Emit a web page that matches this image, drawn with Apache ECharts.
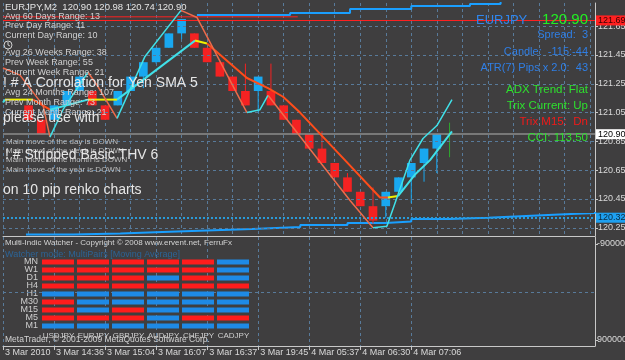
<!DOCTYPE html>
<html>
<head>
<meta charset="utf-8">
<script src="https://cdn.jsdelivr.net/npm/echarts@6/dist/echarts.min.js"></script>
<style>
html, body { margin: 0; padding: 0; background: #3f3e3f; }
#main { width: 625px; height: 360px; }
</style>
</head>
<body>
<div id="main"></div>
<script>
// renko bricks: index, open, close, low, high
var bricks = [
  [0, 121.10, 121.00, 121.00, 121.10],
  [1, 121.00, 120.90, 120.90, 121.00],
  [2, 121.00, 121.10, 121.00, 121.10],
  [3, 121.10, 121.20, 121.10, 121.20],
  [4, 121.20, 121.30, 121.20, 121.30],
  [5, 121.20, 121.10, 121.10, 121.20],
  [6, 121.10, 121.00, 121.00, 121.10],
  [7, 121.10, 121.20, 121.10, 121.20],
  [8, 121.20, 121.30, 121.20, 121.30],
  [9, 121.30, 121.40, 121.22, 121.40],
  [10, 121.40, 121.50, 121.39, 121.50],
  [11, 121.50, 121.60, 121.50, 121.60],
  [12, 121.60, 121.70, 121.56, 121.70],
  [13, 121.60, 121.50, 121.50, 121.60],
  [14, 121.50, 121.40, 121.40, 121.50],
  [15, 121.40, 121.30, 121.30, 121.40],
  [16, 121.30, 121.20, 121.20, 121.30],
  [17, 121.20, 121.10, 121.10, 121.39],
  [18, 121.20, 121.30, 121.05, 121.30],
  [19, 121.20, 121.10, 121.10, 121.39],
  [20, 121.10, 121.00, 121.00, 121.10],
  [21, 121.00, 120.90, 120.90, 121.00],
  [22, 120.90, 120.80, 120.80, 120.90],
  [23, 120.80, 120.70, 120.70, 120.92],
  [24, 120.70, 120.60, 120.60, 120.70],
  [25, 120.60, 120.50, 120.50, 120.63],
  [26, 120.50, 120.40, 120.40, 120.50],
  [27, 120.40, 120.30, 120.28, 120.53],
  [28, 120.40, 120.50, 120.32, 120.50],
  [29, 120.50, 120.60, 120.50, 120.60],
  [30, 120.60, 120.70, 120.42, 120.70],
  [31, 120.70, 120.80, 120.57, 120.80],
  [32, 120.80, 120.90, 120.63, 120.90],
  [33, 120.90, 120.90, 120.74, 120.98]
];

// THV band lines: points [index, price], trend of each segment (u up, d down, f flat)
var fastLine = [[-2, 121.36], [-0.67, 121.31], [1.14, 121.10], [1.68, 120.88], [2.7, 121.07], [4.66, 121.33],
  [5.37, 121.24], [6.94, 121.01], [9.13, 121.44], [11.95, 121.76], [13.21, 121.71], [17.12, 121.05],
  [18.14, 121.07], [18.77, 121.17], [25.2, 120.44], [27.0, 120.25], [28.09, 120.26], [28.88, 120.46],
  [29.9, 120.72], [30.92, 120.87], [32.01, 120.96], [33.19, 121.14]];
var fastTrend = ['d', 'd', 'd', 'u', 'u', 'd', 'd', 'u', 'u', 'd', 'd', 'u', 'u', 'd', 'd', 'u', 'u', 'u', 'u', 'u', 'u'];

var slowLine = [[-2, 121.12], [-1.84, 121.14], [0.35, 121.14], [1.68, 121.07], [4.66, 121.14], [6.94, 121.14],
  [13.05, 121.55], [13.99, 121.53], [17.12, 121.29], [18.77, 121.22], [19.95, 121.16], [21.28, 121.05],
  [24.8, 120.72], [27.55, 120.46], [28.17, 120.46], [28.96, 120.47], [30.29, 120.62], [31.47, 120.72],
  [33.19, 120.92]];
var slowTrend = ['u', 'f', 'd', 'u', 'f', 'u', 'f', 'd', 'd', 'd', 'd', 'd', 'd', 'd', 'f', 'u', 'u', 'u'];

// stepped regression channel
var channelLow = [[-0.2, 120.203], [3.5, 120.21], [7.2, 120.221], [10.5, 120.23], [13.4, 120.242], [17.5, 120.255],
  [21.3, 120.269], [25, 120.283], [28, 120.293], [30, 120.311], [33, 120.32], [36, 120.332], [39, 120.343],
  [41.6, 120.353], [44.4, 120.36]];
var channelHigh = [[13.2, 121.728], [20.5, 121.742], [25.2, 121.769], [30, 121.79], [34.6, 121.804], [37, 121.82]];
var redLevelShort = [[-2, 121.715], [21.1, 121.715]];

var priceTicks = [121.65, 121.45, 121.25, 121.05, 120.85, 120.65, 120.45, 120.25];
var timeTickIdx = [-2, 2, 6, 10, 14, 18, 22, 26, 30];
var timeTickText = ['3 Mar 2010', '3 Mar 14:36', '3 Mar 15:04', '3 Mar 16:07', '3 Mar 16:37',
  '3 Mar 19:45', '4 Mar 05:37', '4 Mar 06:30', '4 Mar 07:06'];
var bidPrice = 120.90;
var highLevel = 121.69;
var lowLevel = 120.32;
var subTicks = [-9000000, 9000000];

// Multi-Indic watcher (1 = up/blue, 0 = down/red)
var watchPairs = ['USDJPY', 'EURJPY', 'GBPJPY', 'AUDJPY', 'CHFJPY', 'CADJPY'];
var watchFrames = ['MN', 'W1', 'D1', 'H4', 'H1', 'M30', 'M15', 'M5', 'M1'];
var watchSignal = [
  [0, 0, 0, 0, 0, 1],
  [0, 0, 0, 0, 0, 1],
  [0, 0, 0, 1, 0, 1],
  [0, 0, 0, 0, 0, 0],
  [1, 1, 1, 1, 1, 1],
  [0, 1, 1, 1, 1, 1],
  [0, 1, 0, 1, 1, 1],
  [0, 0, 0, 1, 0, 0],
  [1, 1, 1, 1, 1, 1]
];

var rangeInfo = ['Avg 60 Days Range: 13', 'Prev Day Range: 11', 'Current Day Range: 10',
  'Avg 26 Weeks Range: 38', 'Prev Week Range: 55', 'Current Week Range: 21',
  'Avg 24 Months Range: 107', 'Prev Month Range: 73', 'Current Month Range: 21'];
var moveInfo = ['Main move of the day is DOWN', 'Main move of the week is DOWN',
  'Main move of the month is DOWN', 'Main move of the year is DOWN'];

var UP = '#19a8f0', DOWN = '#f52222', DOJI = '#2fa82f';
var CYAN = '#40e0e8', ORANGE = '#ff4d1a', SALMON = '#ee6a4a', YELLOW = '#f0f000';
var GRIDC = '#587a9a';
var TXF = "'Liberation Sans',Arial,sans-serif";

function renderBrick(params, api) {
  var i = api.value(0), o = api.value(1), c = api.value(2), lo = api.value(3), hi = api.value(4);
  var w = api.size([1, 0])[0] * 0.68;
  var pO = api.coord([i, o]), pC = api.coord([i, c]), pL = api.coord([i, lo]), pH = api.coord([i, hi]);
  var col = c > o ? UP : (c < o ? DOWN : DOJI);
  var kids = [{ type: 'line', shape: { x1: pH[0], y1: pH[1], x2: pL[0], y2: pL[1] }, style: { stroke: col, lineWidth: 1 } }];
  if (c === o) {
    kids.push({ type: 'line', shape: { x1: pO[0] - w / 2, y1: pO[1], x2: pO[0] + w / 2, y2: pO[1] }, style: { stroke: col, lineWidth: 1 } });
  } else {
    kids.push({ type: 'rect', shape: { x: pO[0] - w / 2, y: Math.min(pO[1], pC[1]), width: w, height: Math.abs(pO[1] - pC[1]) }, style: { fill: col } });
  }
  return { type: 'group', children: kids };
}

function renderCell(params, api) {
  var p = api.coord([api.value(0), api.value(1)]);
  var s = api.size([1, 1]);
  return { type: 'rect', shape: { x: p[0] - s[0] / 2 + 1, y: p[1] - 2.5, width: s[0] - 3, height: 5 },
    style: { fill: api.value(2) ? '#1e8ae6' : '#ff1c1c' } };
}

// split a band line into runs of the same trend colour
function bandSeries(pts, trend, colors, width, z) {
  var out = [], start = 0;
  for (var k = 1; k <= trend.length; k++) {
    if (k === trend.length || trend[k] !== trend[start]) {
      out.push({ type: 'line', xAxisIndex: 0, yAxisIndex: 0, data: pts.slice(start, k + 1), symbol: 'none',
        lineStyle: { color: colors[trend[start]], width: width }, z: z, silent: true });
      start = k;
    }
  }
  return out;
}

var watchData = [];
watchSignal.forEach(function (row, r) {
  row.forEach(function (v, c) { watchData.push([c, r, v]); });
});

var gridLines = priceTicks.map(function (v) {
  return { yAxis: v, lineStyle: { color: GRIDC, type: [3, 3], width: 1 }, label: { show: false } };
});
function priceMark(v, line, bg, fg) {
  return { yAxis: v, lineStyle: line,
    label: { show: true, position: 'end', distance: 1, formatter: v.toFixed(2), backgroundColor: bg, color: fg,
      padding: [1, 2, 0, 2], fontFamily: TXF, fontSize: 9 } };
}

var last = bricks[bricks.length - 1];
var texts = [
  [5, 7, 'EURJPY,M2  ' + [last[1], last[4], last[3], last[2]].map(function (v) { return v.toFixed(2); }).join(' '), '9.5px ' + TXF, '#e4e4e4'],
  [476, 20, 'EURJPY', '13px ' + TXF, '#2f86ee'],
  [588, 20, bidPrice.toFixed(2), '15px ' + TXF, '#22f022', 'right'],
  [588, 35, 'Spread:  3', '11px ' + TXF, '#2f7fe6', 'right'],
  [588, 52, 'Candle:  -115:-44', '11px ' + TXF, '#2f7fe6', 'right'],
  [588, 68, 'ATR(7) Pips x 2.0:  43', '11px ' + TXF, '#2f7fe6', 'right'],
  [588, 90, 'ADX Trend: Flat', '11.5px ' + TXF, '#2ee02e', 'right'],
  [588, 106, 'Trix Current: Up', '11.5px ' + TXF, '#2ee02e', 'right'],
  [588, 122, 'Trix M15:  Dn', '11.5px ' + TXF, '#f01a1a', 'right'],
  [588, 138, 'CCI: 113.50', '11.5px ' + TXF, '#2ee02e', 'right'],
  [5, 243, 'Multi-Indic Watcher - Copyright \u00a9 2008 www.ervent.net, FerruFx', '8px ' + TXF, '#d4d4d4'],
  [5, 255, 'Watcher mode: MultiPairs [Moving Average]', '9px ' + TXF, '#2c6496'],
  [5, 340, 'MetaTrader, \u00a9 2001-2009 MetaQuotes Software Corp.', '8.5px ' + TXF, '#d4d4d4']
];
var rangeY = [17, 26, 36, 53, 63, 73, 93, 103, 113];
rangeInfo.forEach(function (s, k) { texts.push([5, rangeY[k], s, '9px ' + TXF, '#d0d0d0']); });
var moveY = [142, 151, 160, 170];
moveInfo.forEach(function (s, k) { texts.push([6, moveY[k], s, '8px ' + TXF, '#bcbcbc']); });
texts.push([3, 83, '! # A Corrolation for Yen SMA 5', '14px ' + TXF, '#e6e6e6']);
texts.push([3, 118, 'please use with', '14px ' + TXF, '#e6e6e6']);
texts.push([5, 155, '! # Stripped Basic THV 6', '14px ' + TXF, '#e6e6e6']);
texts.push([3, 190, 'on 10 pip renko charts', '14px ' + TXF, '#e6e6e6']);

var graphics = texts.map(function (t) {
  return { type: 'text', x: t[0], y: t[1], z: 100, silent: true,
    style: { text: t[2], font: t[3], fill: t[4], textAlign: t[5] || 'left', textVerticalAlign: 'middle',
      align: t[5] || 'left', verticalAlign: 'middle' } };
});
// clock icon
graphics.push({ type: 'circle', shape: { cx: 8, cy: 45, r: 4 }, style: { fill: 'none', stroke: '#d0d0d0', lineWidth: 1 }, z: 100, silent: true });
graphics.push({ type: 'polyline', shape: { points: [[8, 42], [8, 45], [10, 46]] }, style: { fill: 'none', stroke: '#d0d0d0', lineWidth: 1 }, z: 100, silent: true });

var series = [
  { type: 'line', xAxisIndex: 0, yAxisIndex: 0, data: channelLow, step: 'end', symbol: 'none',
    lineStyle: { color: '#1a9fff', width: 2 }, z: 3, silent: true,
    markLine: { silent: true, symbol: 'none', animation: false,
      data: gridLines.concat([
        priceMark(highLevel, { color: '#ff2020', type: 'solid', width: 1 }, '#ff2020', '#3a0000'),
        priceMark(bidPrice, { color: '#8c8c8c', type: 'solid', width: 1.5 }, '#ffffff', '#000000'),
        priceMark(lowLevel, { color: '#2a9ad8', type: [2, 2], width: 2 }, '#1ea0f0', '#0a2a40')
      ]) } },
  { type: 'line', xAxisIndex: 0, yAxisIndex: 0, data: channelHigh, step: 'end', symbol: 'none',
    lineStyle: { color: '#1a9fff', width: 2 }, z: 3, silent: true },
  { type: 'line', xAxisIndex: 0, yAxisIndex: 0, data: redLevelShort, symbol: 'none',
    lineStyle: { color: '#ff2020', width: 1 }, z: 3, silent: true },
  { type: 'custom', xAxisIndex: 0, yAxisIndex: 0, data: bricks, renderItem: renderBrick,
    encode: { x: 0, y: [1, 2, 3, 4] }, z: 4, silent: true },
  { type: 'line', xAxisIndex: 1, yAxisIndex: 1, data: [], symbol: 'none',
    markLine: { silent: true, symbol: 'none', animation: false, label: { show: false },
      data: [{ yAxis: 0, lineStyle: { color: GRIDC, type: [3, 3], width: 1 } }] } },
  { type: 'custom', xAxisIndex: 2, yAxisIndex: 2, data: watchData, renderItem: renderCell, z: 5, silent: true }
].concat(
  bandSeries(slowLine, slowTrend, { u: CYAN, d: ORANGE, f: YELLOW }, 2, 6),
  bandSeries(fastLine, fastTrend, { u: CYAN, d: SALMON, f: YELLOW }, 1.5, 6)
);

var axisLine = { show: true, onZero: false, lineStyle: { color: '#c8c8c8', width: 1 } };
var vSplit = { show: true, lineStyle: { color: GRIDC, type: [3, 3], width: 1 } };

var option = {
  backgroundColor: '#3f3e3f',
  animation: false,
  grid: [
    { left: 3, right: 30, top: 3, height: 233, outerBoundsMode: 'none' },
    { left: 3, right: 30, top: 237, height: 109, outerBoundsMode: 'none' },
    { left: 41, width: 210, top: 258, height: 72, outerBoundsMode: 'none' }
  ],
  xAxis: [
    { gridIndex: 0, type: 'value', min: -2, max: 44.4, interval: 2, axisLine: axisLine,
      axisTick: { show: false }, axisLabel: { show: false }, splitLine: vSplit },
    { gridIndex: 1, type: 'value', min: -2, max: 44.4, interval: 2, axisLine: axisLine,
      axisTick: { show: true, customValues: timeTickIdx, length: 4, lineStyle: { color: '#c8c8c8' } },
      axisLabel: { show: true, customValues: timeTickIdx, align: 'left', margin: 2, padding: [0, 0, 0, 2],
        hideOverlap: false, showMinLabel: true, showMaxLabel: true,
        fontFamily: TXF, fontSize: 9, color: '#dadada',
        formatter: function (v) { return timeTickText[timeTickIdx.indexOf(Math.round(v))] || ''; } },
      splitLine: vSplit },
    { gridIndex: 2, type: 'category', data: watchPairs, axisLine: { show: false }, axisTick: { show: false },
      axisLabel: { interval: 0, margin: 2, fontFamily: TXF, fontSize: 8, color: '#cfcfcf' }, splitLine: { show: false } }
  ],
  yAxis: [
    { gridIndex: 0, type: 'value', position: 'right', min: 120.193, max: 121.811, axisLine: axisLine,
      axisTick: { show: true, customValues: priceTicks, length: 3, lineStyle: { color: '#c8c8c8' } },
      axisLabel: { customValues: priceTicks, margin: 3, fontFamily: TXF, fontSize: 9, color: '#dadada',
        formatter: function (v) { return v.toFixed(2); } },
      splitLine: { show: false } },
    { gridIndex: 1, type: 'value', position: 'right', inverse: true, min: -10312500, max: 10125000, axisLine: axisLine,
      axisTick: { show: true, customValues: subTicks, length: 3, lineStyle: { color: '#c8c8c8' } },
      axisLabel: { customValues: subTicks, margin: 2, fontFamily: TXF, fontSize: 9, color: '#dadada',
        formatter: function (v) { return String(v); } },
      splitLine: { show: false } },
    { gridIndex: 2, type: 'category', data: watchFrames, inverse: true, axisLine: { show: false },
      axisTick: { show: false }, axisLabel: { interval: 0, margin: 3, fontFamily: TXF, fontSize: 9, color: '#cfcfcf' },
      splitLine: { show: false } }
  ],
  graphic: graphics,
  series: series
};

var chart = echarts.init(document.getElementById('main'));
chart.setOption(option);
</script>
</body>
</html>
